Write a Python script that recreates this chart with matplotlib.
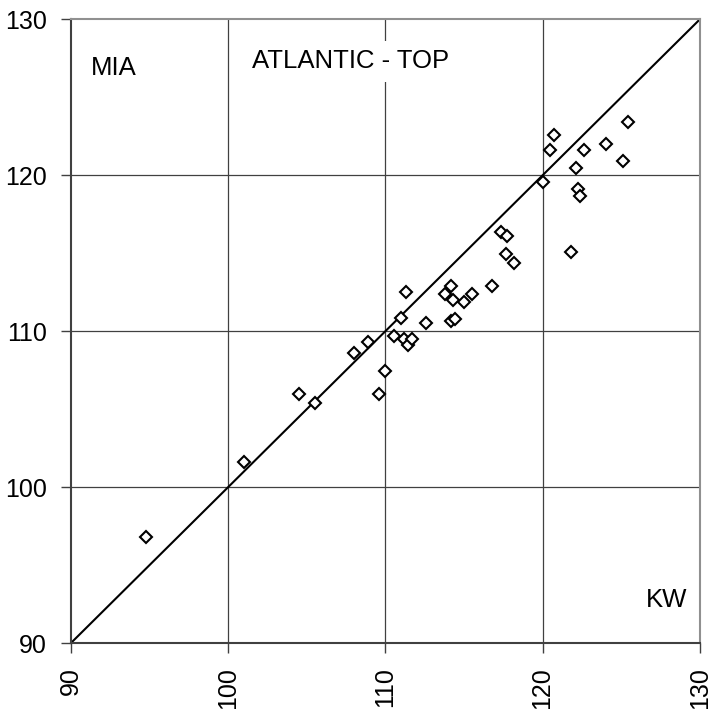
import matplotlib
matplotlib.use('Agg')
from matplotlib import pyplot as plt

# KW (x) vs MIA (y) values
kw = [94.8, 101.0, 104.5, 105.5,
      108.0, 108.9, 109.6, 110.0, 110.55, 110.98, 111.3, 111.2, 111.45, 111.7,
      112.6, 113.8, 114.15, 114.3, 114.15, 114.4, 115.0, 115.5, 116.8,
      117.35, 117.75, 117.65, 118.2,
      120.05, 120.5, 120.7, 121.8, 122.1, 122.25, 122.35, 122.65, 124.0,
      125.1, 125.4]
mia = [96.8, 101.6, 106.0, 105.4,
       108.6, 109.3, 106.0, 107.45, 109.7, 110.85, 112.55, 109.5, 109.1, 109.5,
       110.5, 112.4, 112.9, 112.0, 110.65, 110.8, 111.9, 112.4, 112.9,
       116.35, 116.1, 114.95, 114.4,
       119.55, 121.65, 122.6, 115.1, 120.45, 119.1, 118.7, 121.65, 122.0,
       120.9, 123.4]

ticks = [90, 100, 110, 120, 130]

plt.rcParams['font.family'] = ['Liberation Sans', 'DejaVu Sans']

fig = plt.figure(figsize=(7.12, 7.09), dpi=100)
ax = fig.add_axes([0.0993, 0.0927, 0.8837, 0.8801])

# grid lines
for t in ticks[1:-1]:
    ax.axvline(t, color='#404040', lw=0.9, zorder=1)
    ax.axhline(t, color='#404040', lw=0.9, zorder=1)

# 1:1 line
ax.plot([90, 130], [90, 130], color='black', lw=1.5, zorder=2)

ax.plot(kw, mia, linestyle='none', marker='D', markersize=6.5,
        markerfacecolor='white', markeredgecolor='black', markeredgewidth=1.5,
        zorder=3, clip_on=False)

ax.set_xlim(90, 130)
ax.set_ylim(90, 130)
ax.set_xticks(ticks)
ax.set_yticks(ticks)
ax.set_xticklabels([str(t) for t in ticks], rotation=90, fontsize=18)
ax.set_yticklabels([str(t) for t in ticks], fontsize=18)
ax.tick_params(direction='out', length=7, width=1, color='#404040', pad=10)

ax.spines['left'].set_color('#404040')
ax.spines['bottom'].set_color('#404040')
ax.spines['top'].set_color('#909090')
ax.spines['right'].set_color('#909090')
for s in ax.spines.values():
    s.set_linewidth(1.5)

ax.text(91.3, 126.9, 'MIA', fontsize=18.5, va='center', ha='left')
ax.text(101.5, 127.3, 'ATLANTIC - TOP', fontsize=18.5, va='center', ha='left',
        bbox=dict(facecolor='white', edgecolor='none', pad=6), zorder=4)
ax.text(129.2, 92.8, 'KW', fontsize=18.5, va='center', ha='right')

plt.savefig('out.png', dpi=100)
plt.close()
